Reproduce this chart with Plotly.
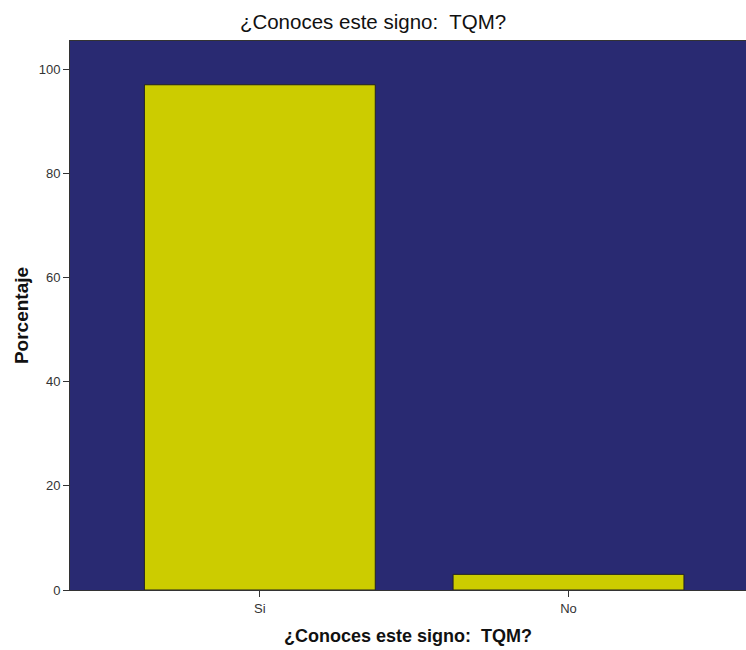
import plotly.graph_objects as go

categories = ["Si", "No"]
values = [97.0, 3.0]
y_ticks = [0, 20, 40, 60, 80, 100]

fig = go.Figure()
fig.add_trace(go.Bar(
    x=categories, y=values, width=0.748,
    marker=dict(color="#cccc00", line=dict(color="#222222", width=1)),
))
fig.update_layout(
    width=746, height=650,
    margin=dict(l=70, r=0, t=41, b=60, autoexpand=False),
    paper_bgcolor="white", plot_bgcolor="#292a72",
    showlegend=False,
    font=dict(family="Liberation Sans, Arial, sans-serif", color="#222222"),
    title=dict(text="¿Conoces este signo:  TQM?", x=0.5, xanchor="center", y=0.966, yanchor="middle",
               font=dict(size=20.5, color="#111111")),
)
fig.update_xaxes(
    type="category", range=[-0.615, 1.575], automargin=False,
    showgrid=False, zeroline=False,
    showline=True, linecolor="#333333", linewidth=1, mirror=True,
    ticks="outside", ticklen=6, tickcolor="#333333", tickfont=dict(size=13, color="#333333"),
    title=dict(text="<b>¿Conoces este signo:  TQM?</b>", font=dict(size=18, color="#111111"), standoff=14),
)
fig.update_yaxes(
    range=[0, 105.4], tickvals=y_ticks, automargin=False,
    showgrid=False, zeroline=False,
    showline=True, linecolor="#333333", linewidth=1, mirror=True,
    ticks="outside", ticklen=6, tickcolor="#333333", tickfont=dict(size=13, color="#333333"),
    title=dict(text="<b>Porcentaje</b>", font=dict(size=19, color="#111111"), standoff=5),
)
fig.write_html("out.html", config={"displayModeBar": False},
               post_script="document.body.style.margin='0';")
